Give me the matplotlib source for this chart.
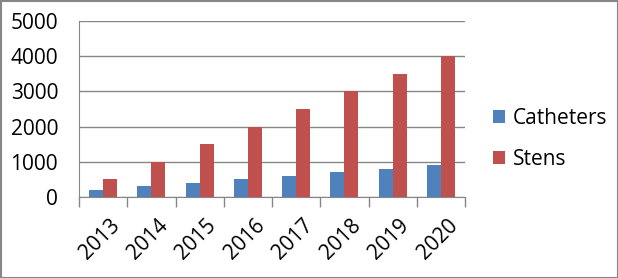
import matplotlib
matplotlib.use("Agg")
import matplotlib.pyplot as plt
import matplotlib.transforms as mtrans
import numpy as np

years = ["2013", "2014", "2015", "2016", "2017", "2018", "2019", "2020"]
catheters = [200, 300, 400, 500, 600, 700, 800, 900]
stens = [500, 1000, 1500, 2000, 2500, 3000, 3500, 4000]
yticks = [0, 1000, 2000, 3000, 4000, 5000]

plt.rcParams['font.family'] = ['Open Sans', 'DejaVu Sans']

W, H = 618, 278
fig = plt.figure(figsize=(W/100, H/100), dpi=100)
ax = fig.add_axes([79/W, 1-197/H, (465-79)/W, (197-21)/H])

x = np.arange(len(years))
bw = 0.29
ax.bar(x - bw/2, catheters, bw, color='#4F81BD', label='Catheters')
ax.bar(x + bw/2, stens, bw, color='#C0504D', label='Stens')

ax.set_xlim(-0.5, len(years)-0.5)
ax.set_ylim(0, 5000)
ax.set_yticks(yticks)
ax.set_yticklabels([str(v) for v in yticks], fontsize=15)
ax.yaxis.grid(True, color='#868686', linewidth=1)
ax.set_axisbelow(True)
ax.tick_params(axis='y', length=0, pad=15)

ax.set_xticks(np.arange(len(years)+1) - 0.5, minor=False)
ax.set_xticklabels([])
ax.tick_params(axis='x', length=7, color='#868686', width=1)
ax.set_xticks(x, minor=True)
ax.set_xticklabels(years, minor=True, rotation=45, ha='right', va='top',
                   rotation_mode='anchor', fontsize=15)
ax.tick_params(axis='x', which='minor', length=0, pad=13)
off = mtrans.ScaledTranslation(6/100, 0, fig.dpi_scale_trans)
for lab in ax.get_xticklabels(minor=True):
    lab.set_transform(lab.get_transform() + off)

for s in ['top', 'right']:
    ax.spines[s].set_visible(False)
ax.spines['left'].set_color('#868686')
ax.spines['bottom'].set_color('#868686')

leg = fig.legend(loc='center left', bbox_to_anchor=(474/W, 1-139/H), frameon=False,
                 fontsize=15, handlelength=0.6, handleheight=0.6, handletextpad=0.35,
                 labelspacing=0.95)

fig.patches.append(plt.Rectangle((0.5/W, 0.5/H), 1-1/W, 1-1/H, transform=fig.transFigure,
                                 fill=False, edgecolor='#868686', linewidth=1.5))

fig.savefig('out.png', dpi=100)
